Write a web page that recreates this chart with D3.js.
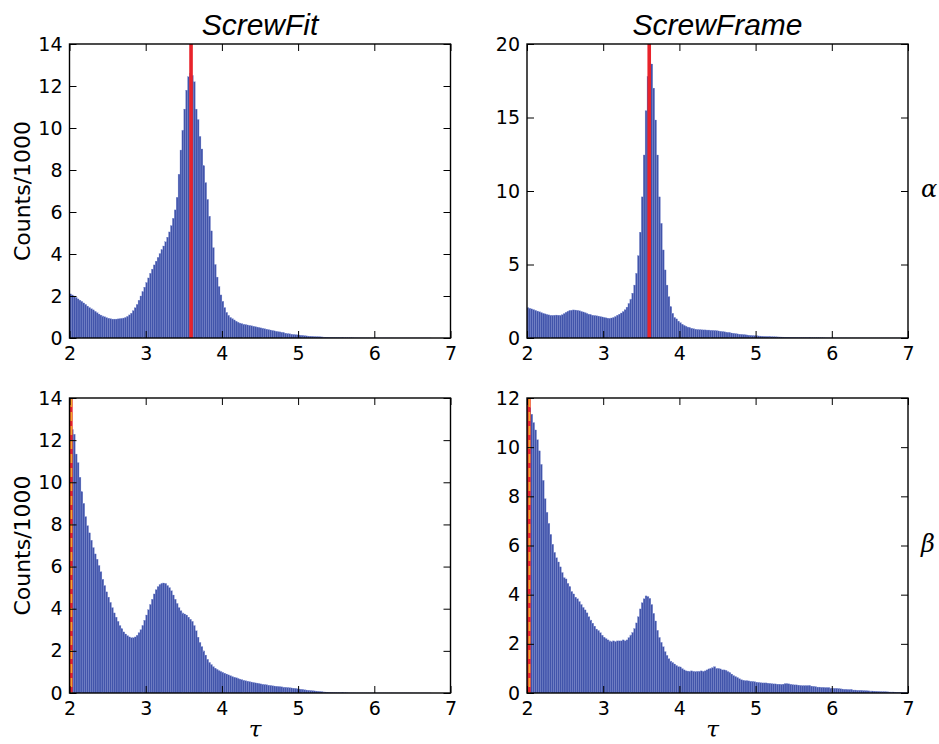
<!DOCTYPE html>
<html>
<head>
<meta charset="utf-8">
<script src="https://cdn.jsdelivr.net/npm/d3@7"></script>
<style>
  body { margin: 0; background: #fff; }
  svg { display: block; }
  .tick text { font-family: "DejaVu Sans", sans-serif; font-size: 19px; fill: #000; }
  .tick line { stroke: #000; stroke-width: 1; }
</style>
</head>
<body>
<svg id="chart" width="939" height="744"></svg>
<script>
// histogram bins: tau from 2 to 7, width 0.025 (200 bins)
var binStart = 2, binWidth = 0.025;
var tauTicks = [2, 3, 4, 5, 6, 7];

// counts/1000, ScrewFit alpha
var fitAlpha = [
  2.1, 2.05, 2.0, 1.93, 1.86, 1.8, 1.74, 1.67, 1.6, 1.52,
  1.45, 1.39, 1.34, 1.27, 1.2, 1.14, 1.09, 1.05, 1.01, 0.97,
  0.94, 0.92, 0.9, 0.9, 0.9, 0.91, 0.92, 0.93, 0.95, 0.98,
  1.03, 1.1, 1.18, 1.3, 1.44, 1.6, 1.8, 2.0, 2.2, 2.42,
  2.64, 2.86, 3.08, 3.28, 3.48, 3.66, 3.84, 4.02, 4.2, 4.38,
  4.58, 4.8, 5.05, 5.35, 5.7, 6.1, 6.7, 7.8, 8.95, 9.9,
  10.9, 11.8, 12.44, 12.6, 12.5, 12.2, 10.9, 10.4, 9.6, 9.0,
  8.2, 7.4, 6.6, 5.8, 5.1, 4.3, 3.5, 2.9, 2.45, 2.05,
  1.75, 1.45, 1.22, 1.08, 0.98, 0.92, 0.86, 0.8, 0.75, 0.71,
  0.68, 0.66, 0.64, 0.62, 0.6, 0.58, 0.56, 0.54, 0.52, 0.5,
  0.48, 0.46, 0.44, 0.42, 0.4, 0.38, 0.36, 0.34, 0.32, 0.3,
  0.29, 0.27, 0.25, 0.23, 0.21, 0.2, 0.18, 0.17, 0.16, 0.15,
  0.14, 0.13, 0.12, 0.11, 0.1, 0.09, 0.085, 0.08, 0.07, 0.065,
  0.06, 0.055, 0.05, 0.045, 0.04, 0.035, 0.03, 0.028, 0.025, 0.022,
  0.02, 0.018, 0.016, 0.014, 0.012, 0.011, 0.01, 0.009, 0.008, 0.007,
  0.007, 0.006, 0.006, 0.005, 0.005, 0.004, 0.004, 0.004, 0.003, 0.003,
  0.003, 0.003, 0.003, 0.002, 0.002, 0.002, 0.002, 0.002, 0.002, 0.002,
  0.001, 0.001, 0.001, 0.001, 0.001, 0.001, 0.001, 0.001, 0.001, 0.001,
  0.001, 0.001, 0.001, 0.001, 0.001, 0.001, 0.001, 0.001, 0.001, 0.001,
  0, 0, 0, 0, 0, 0, 0, 0, 0, 0
];

// counts/1000, ScrewFrame alpha
var frameAlpha = [
  2.06, 2.02, 1.98, 1.93, 1.88, 1.83, 1.78, 1.73, 1.68, 1.64,
  1.6, 1.57, 1.55, 1.54, 1.55, 1.56, 1.55, 1.54, 1.58, 1.66,
  1.75, 1.82, 1.86, 1.89, 1.91, 1.9, 1.88, 1.85, 1.81, 1.77,
  1.72, 1.67, 1.62, 1.58, 1.55, 1.53, 1.51, 1.49, 1.46, 1.43,
  1.4, 1.37, 1.35, 1.34, 1.36, 1.4, 1.46, 1.55, 1.62, 1.7,
  1.8, 1.92, 2.1, 2.35, 2.65, 3.05, 3.6, 4.4, 5.6, 7.2,
  9.6, 12.45, 15.46, 17.8, 19.4, 18.64, 17.0, 14.83, 12.45, 9.6,
  7.8, 5.99, 4.63, 3.6, 2.81, 2.13, 1.68, 1.4, 1.3, 1.15,
  1.04, 0.94, 0.86, 0.8, 0.74, 0.7, 0.66, 0.63, 0.6, 0.58,
  0.57, 0.56, 0.55, 0.55, 0.54, 0.54, 0.53, 0.52, 0.51, 0.5,
  0.48, 0.46, 0.44, 0.42, 0.4, 0.38, 0.36, 0.34, 0.32, 0.3,
  0.28, 0.26, 0.25, 0.235, 0.22, 0.205, 0.19, 0.18, 0.17, 0.16,
  0.15, 0.14, 0.13, 0.12, 0.11, 0.105, 0.1, 0.095, 0.09, 0.085,
  0.08, 0.075, 0.07, 0.065, 0.06, 0.055, 0.05, 0.047, 0.044, 0.041,
  0.038, 0.035, 0.032, 0.03, 0.028, 0.026, 0.024, 0.022, 0.02, 0.018,
  0.016, 0.015, 0.014, 0.013, 0.012, 0.011, 0.01, 0.009, 0.008, 0.008,
  0.007, 0.007, 0.006, 0.006, 0.006, 0.005, 0.005, 0.005, 0.004, 0.004,
  0.004, 0.004, 0.003, 0.003, 0.003, 0.003, 0.003, 0.002, 0.002, 0.002,
  0.002, 0.002, 0.002, 0.002, 0.002, 0.002, 0.002, 0.002, 0.002, 0.002,
  0.001, 0.001, 0.001, 0.001, 0.001, 0.001, 0.001, 0.001, 0.001, 0.001
];

// counts/1000, ScrewFit beta
var fitBeta = [
  13.2, 12.5, 12.28, 11.34, 10.93, 10.24, 9.55, 9.0, 8.37, 7.94,
  7.6, 7.25, 6.9, 6.6, 6.35, 6.05, 5.75, 5.4, 5.1, 4.8,
  4.55, 4.3, 4.05, 3.8, 3.6, 3.4, 3.2, 3.05, 2.9, 2.8,
  2.72, 2.66, 2.62, 2.62, 2.66, 2.74, 2.86, 3.0, 3.2, 3.45,
  3.7, 3.95, 4.2, 4.45, 4.7, 4.9, 5.05, 5.15, 5.2, 5.22,
  5.2, 5.1, 5.0, 4.85, 4.65, 4.45, 4.25, 4.05, 3.9, 3.8,
  3.75, 3.7, 3.6, 3.5, 3.4, 3.2, 2.95, 2.65, 2.4, 2.2,
  2.0, 1.8, 1.6, 1.45, 1.35, 1.25, 1.18, 1.12, 1.06, 1.02,
  0.98, 0.94, 0.9, 0.86, 0.82, 0.78, 0.75, 0.72, 0.69, 0.66,
  0.63, 0.6, 0.58, 0.56, 0.54, 0.52, 0.5, 0.48, 0.47, 0.45,
  0.43, 0.42, 0.4, 0.39, 0.37, 0.36, 0.34, 0.33, 0.32, 0.31,
  0.3, 0.29, 0.28, 0.27, 0.26, 0.25, 0.24, 0.23, 0.22, 0.2,
  0.19, 0.18, 0.16, 0.15, 0.14, 0.13, 0.12, 0.11, 0.1, 0.09,
  0.08, 0.07, 0.06, 0.05, 0.045, 0.04, 0.03, 0.025, 0.02, 0.018,
  0.015, 0.013, 0.012, 0.01, 0.009, 0.008, 0.007, 0.006, 0.005, 0.005,
  0.004, 0.004, 0.004, 0.004, 0.004, 0.004, 0.004, 0.004, 0.004, 0.004,
  0.003, 0.003, 0.003, 0.003, 0.003, 0.003, 0.003, 0.003, 0.003, 0.003,
  0.002, 0.002, 0.002, 0.002, 0.002, 0.002, 0.002, 0.002, 0.002, 0.002,
  0.001, 0.001, 0.001, 0.001, 0.001, 0.001, 0.001, 0.001, 0.001, 0.001,
  0, 0, 0, 0, 0, 0, 0, 0, 0, 0
];

// counts/1000, ScrewFrame beta
var frameBeta = [
  11.8, 11.6, 11.34, 11.0, 10.7, 10.3, 9.85, 9.3, 8.65, 7.9,
  7.35, 6.9, 6.45, 6.05, 5.72, 5.5, 5.33, 5.13, 4.9, 4.69,
  4.64, 4.46, 4.33, 4.13, 4.03, 3.9, 3.83, 3.72, 3.6, 3.48,
  3.38, 3.26, 3.1, 2.97, 2.84, 2.72, 2.6, 2.54, 2.45, 2.35,
  2.27, 2.21, 2.16, 2.12, 2.09, 2.12, 2.09, 2.12, 2.12, 2.12,
  2.16, 2.12, 2.16, 2.25, 2.36, 2.46, 2.62, 2.85, 3.1, 3.42,
  3.67, 3.83, 3.95, 3.92, 3.85, 3.6, 3.24, 2.93, 2.55, 2.26,
  2.06, 1.88, 1.68, 1.53, 1.39, 1.3, 1.24, 1.18, 1.12, 1.07,
  1.06, 0.99, 0.94, 0.9, 0.89, 0.88, 0.9, 0.88, 0.87, 0.88,
  0.88, 0.9, 0.88, 0.9, 0.94, 0.98, 1.0, 1.03, 1.07, 1.0,
  1.0, 0.98, 0.94, 0.94, 0.92, 0.87, 0.83, 0.77, 0.71, 0.67,
  0.63, 0.58, 0.54, 0.52, 0.5, 0.5, 0.49, 0.48, 0.47, 0.46,
  0.44, 0.43, 0.42, 0.41, 0.41, 0.41, 0.4, 0.39, 0.38, 0.37,
  0.37, 0.36, 0.36, 0.35, 0.36, 0.38, 0.38, 0.37, 0.36, 0.34,
  0.33, 0.33, 0.32, 0.31, 0.3, 0.3, 0.3, 0.3, 0.3, 0.28,
  0.27, 0.26, 0.24, 0.24, 0.23, 0.23, 0.22, 0.22, 0.22, 0.2,
  0.19, 0.19, 0.19, 0.18, 0.17, 0.16, 0.15, 0.15, 0.14, 0.14,
  0.13, 0.12, 0.12, 0.11, 0.11, 0.11, 0.1, 0.095, 0.09, 0.085,
  0.08, 0.08, 0.075, 0.07, 0.065, 0.06, 0.055, 0.055, 0.05, 0.045,
  0.04, 0.04, 0.04, 0.035, 0.03, 0.028, 0.025, 0.02, 0.015, 0.012
];

// reference tau marked by the red line (and the dashed one in beta panels)
var refTau = [3.595, 3.604, 2.018, 2.025];
var yTicksFitAlpha = [0, 2, 4, 6, 8, 10, 12, 14];
var yTicksFrameAlpha = [0, 5, 10, 15, 20];
var yTicksFitBeta = [0, 2, 4, 6, 8, 10, 12, 14];
var yTicksFrameBeta = [0, 2, 4, 6, 8, 10, 12];
var titles = ["ScrewFit", "ScrewFrame"];
var rowLabels = ["\u03b1", "\u03b2"];

var panels = [
  { counts: fitAlpha,   yTicks: yTicksFitAlpha,   ref: refTau[0], beta: false, left: 69.5, top: 44,  w: 381, h: 294 },
  { counts: frameAlpha, yTicks: yTicksFrameAlpha, ref: refTau[1], beta: false, left: 527,  top: 44,  w: 381, h: 294 },
  { counts: fitBeta,    yTicks: yTicksFitBeta,    ref: refTau[2], beta: true,  left: 69.5, top: 398, w: 381, h: 295 },
  { counts: frameBeta,  yTicks: yTicksFrameBeta,  ref: refTau[3], beta: true,  left: 527,  top: 398, w: 381, h: 295 }
];

var svg = d3.select("#chart");

panels.forEach(function(p, k) {
  var x = d3.scaleLinear().domain([2, 7]).range([0, p.w]);
  var y = d3.scaleLinear().domain([0, d3.max(p.yTicks)]).range([p.h, 0]);
  var g = svg.append("g").attr("transform", "translate(" + p.left + "," + p.top + ")");

  g.append("clipPath").attr("id", "clip" + k)
    .append("rect").attr("width", p.w).attr("height", p.h);

  var plot = g.append("g").attr("clip-path", "url(#clip" + k + ")");

  plot.selectAll("rect.bar")
    .data(p.counts)
    .enter().append("rect")
    .attr("class", "bar")
    .attr("x", function(d, i) { return x(binStart + i * binWidth); })
    .attr("width", x(binStart + binWidth) - x(binStart))
    .attr("y", function(d) { return y(d); })
    .attr("height", function(d) { return p.h - y(d); })
    .attr("fill", "#4154aa")
    .attr("stroke", "#7d8cd0")
    .attr("stroke-width", 0.3);

  plot.append("line")
    .attr("x1", x(p.ref)).attr("x2", x(p.ref))
    .attr("y1", 0).attr("y2", p.h)
    .attr("stroke", "#e8232b")
    .attr("stroke-width", 3.6);

  if (p.beta) {
    plot.append("line")
      .attr("x1", x(p.ref) + 0.5).attr("x2", x(p.ref) + 0.5)
      .attr("y1", 0).attr("y2", p.h)
      .attr("stroke", "#f5a62a")
      .attr("stroke-width", 1.8)
      .attr("stroke-dasharray", "9,5");
  }

  g.append("g")
    .attr("transform", "translate(0," + p.h + ")")
    .call(d3.axisBottom(x).tickValues(tauTicks).tickSize(-7).tickPadding(9).tickFormat(d3.format("d")))
    .call(function(a) { a.select(".domain").remove(); });
  g.append("g")
    .call(d3.axisTop(x).tickValues(tauTicks).tickSize(-7).tickFormat(""))
    .call(function(a) { a.select(".domain").remove(); });
  g.append("g")
    .call(d3.axisLeft(y).tickValues(p.yTicks).tickSize(-7).tickPadding(7).tickFormat(d3.format("d")))
    .call(function(a) { a.select(".domain").remove(); });
  g.append("g")
    .attr("transform", "translate(" + p.w + ",0)")
    .call(d3.axisRight(y).tickValues(p.yTicks).tickSize(-7).tickFormat(""))
    .call(function(a) { a.select(".domain").remove(); });

  g.append("rect")
    .attr("width", p.w).attr("height", p.h)
    .attr("fill", "none")
    .attr("stroke", "#000")
    .attr("stroke-width", 1.4);

  if (k < 2) {
    g.append("text")
      .attr("x", p.w / 2).attr("y", -9)
      .attr("text-anchor", "middle")
      .attr("font-family", "Liberation Sans, Arial, sans-serif")
      .attr("font-style", "italic")
      .attr("font-size", 30)
      .text(titles[k]);
  }
  if (k % 2 === 0) {
    g.append("text")
      .attr("transform", "translate(-40," + (p.h / 2) + ") rotate(-90)")
      .attr("text-anchor", "middle")
      .attr("font-family", "DejaVu Sans, sans-serif")
      .attr("font-size", 22)
      .text("Counts/1000");
  } else {
    g.append("text")
      .attr("x", p.w + 13).attr("y", p.h / 2 + 6)
      .attr("font-family", "DejaVu Serif, serif")
      .attr("font-style", "italic")
      .attr("font-size", 24)
      .text(rowLabels[(k - 1) / 2]);
  }
  if (k >= 2) {
    g.append("text")
      .attr("x", p.w / 2 - 5).attr("y", p.h + 44)
      .attr("text-anchor", "middle")
      .attr("font-family", "DejaVu Serif, serif")
      .attr("font-style", "italic")
      .attr("font-size", 23)
      .text("\u03c4");
  }
});
</script>
</body>
</html>
